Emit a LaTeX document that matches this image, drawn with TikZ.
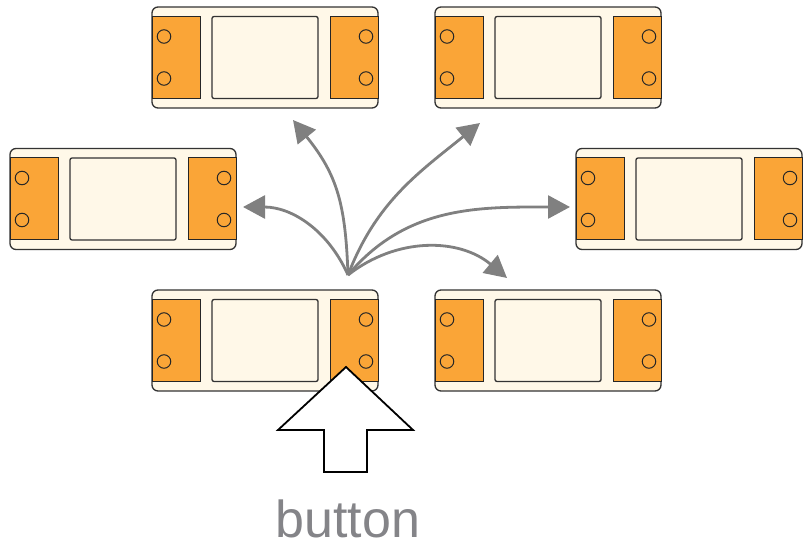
\documentclass[tikz,border=0pt]{standalone}
\usepackage{fontspec}
\setmainfont{Liberation Sans}
\usetikzlibrary{arrows.meta, positioning, calc}
\definecolor{capor}{RGB}{250,165,55}
\definecolor{shellbg}{RGB}{255,248,232}
\definecolor{arrgray}{RGB}{128,128,128}
\definecolor{txtgray}{RGB}{132,132,136}

\begin{document}
\begin{tikzpicture}[x=1pt, y=1pt,
  shell/.style={rectangle,draw=black!80,fill=shellbg,line width=1.3pt,rounded corners=6pt,minimum width=226pt,minimum height=101pt,inner sep=0pt,outer sep=0pt},
  endcap/.style={rectangle,draw=black!85,fill=capor,line width=1pt,minimum width=48pt,minimum height=82pt,inner sep=0pt,outer sep=0pt},
  win/.style={rectangle,draw=black!80,fill=shellbg,line width=1.3pt,rounded corners=2pt,minimum width=106pt,minimum height=82pt,inner sep=0pt},
  hole/.style={circle,draw=black!85,line width=1pt,minimum size=13.5pt,inner sep=0pt},
  fly/.style={-{Triangle[length=22pt,width=23pt]},line width=2.8pt,arrgray},
  push/.style={draw=black,fill=white,line width=1.8pt,line join=miter}]
  \useasboundingbox (0,0) rectangle (803,552);
  % six relay modules
  \foreach \n/\x/\y in {m1/265/494.5, m2/548/494.5, m3/123/353, m4/689/353, m5/265/211.5, m6/548/211.5}{
    \node[shell](\n) at (\x,\y){};
    \node[endcap,anchor=west](\n-l) at (\n.west){};
    \node[endcap,anchor=east](\n-r) at (\n.east){};
    \node[win](\n-w) at (\n){};
    \node[hole](\n-a) at ($(\n.west)+(12,21)$){};
    \node[hole](\n-b) at ($(\n.west)+(12,-21)$){};
    \node[hole](\n-c) at ($(\n.east)+(-12,21)$){};
    \node[hole](\n-d) at ($(\n.east)+(-12,-21)$){};
  }
  % fan of moves
  \coordinate (src) at (348,277);
  \coordinate (t1) at (293,432);
  \coordinate (t2) at (480,429);
  \coordinate (t3) at (243,345);
  \coordinate (t4) at (570,345);
  \coordinate (t5) at (507,274);
  \draw[fly](src) to[out=92,in=-51,looseness=1.1] (t1);
  \draw[fly](src) to[out=69,in=219] (t2);
  \draw[fly](src) to[out=114,in=0] (t3);
  \draw[fly](src) to[out=50,in=180] (t4);
  \draw[fly](src) to[out=38,in=140] (t5);
  % push arrow and label
  \coordinate (tip) at (346,185);
  \draw[push](tip) -- ++(67,-63) -- ++(-46,0) -- ++(0,-42) -- ++(-43,0) -- ++(0,42) -- ++(-46,0) -- cycle;
  \node[font=\fontsize{52}{52}\selectfont,text=txtgray,anchor=base,inner sep=0pt](lbl) at (348,15){button};
\end{tikzpicture}
\end{document}
